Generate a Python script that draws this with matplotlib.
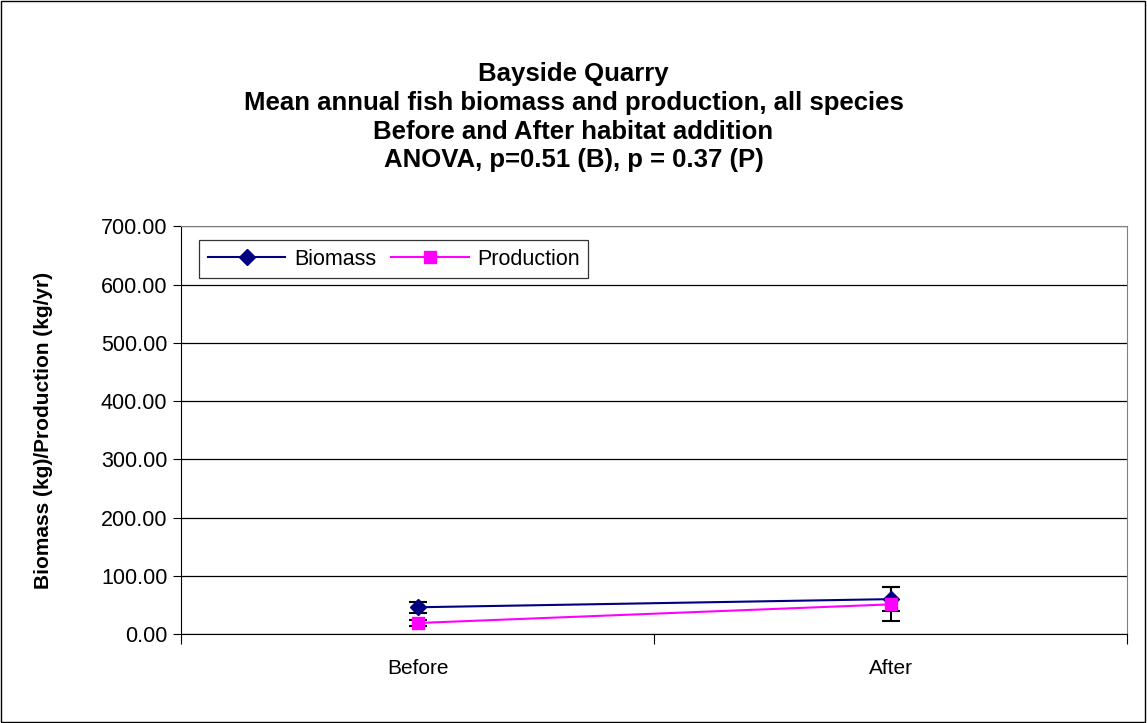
import numpy as np
import matplotlib.pyplot as plt

plt.rcParams['font.family'] = ['Liberation Sans', 'DejaVu Sans']

periods = ["Before", "After"]
biomass = [46, 60]
biomass_err = [9, 21]
production = [19, 51]
production_err = [6, 29]

fig = plt.figure(figsize=(11.47, 7.23), dpi=100)
ax = fig.add_axes([0.158, 0.123, 0.8246, 0.564])

x = np.arange(len(periods))
ax.errorbar(x, biomass, yerr=biomass_err, color="#000080", marker="D", markersize=8,
            lw=1.5, ecolor="black", elinewidth=1.5, capsize=6.5, capthick=1.5, label="Biomass", zorder=3)
ax.errorbar(x, production, yerr=production_err, color="#ff00ff", marker="s", markersize=9,
            lw=1.5, ecolor="black", elinewidth=1.5, capsize=6.5, capthick=1.5, label="Production", zorder=3)

ax.set_xlim(-0.5, 1.5)
ax.set_ylim(0, 700)
ax.set_yticks(np.arange(0, 701, 100))
ax.set_yticklabels(["%.2f" % v for v in np.arange(0, 701, 100)], fontsize=15.5)
ax.set_xticks([-0.5, 0.5, 1.5])
ax.set_xticklabels([])
ax.set_xticks(x, minor=True)
ax.set_xticklabels(periods, minor=True, fontsize=15)
ax.tick_params(axis="x", which="minor", length=0, pad=18)
ax.tick_params(axis="x", which="major", length=7, direction="out")
ax.tick_params(axis="y", length=6, direction="out", pad=4)
ax.grid(axis="y", color="black", lw=0.9)
ax.set_axisbelow(True)
for s in ["top", "right"]:
    ax.spines[s].set_color("#808080")
ax.spines["left"].set_color("black")
ax.spines["bottom"].set_color("black")

ax.set_ylabel("Biomass (kg)/Production (kg/yr)", fontsize=15, fontweight="bold")
ax.yaxis.set_label_coords(-0.136, 0.5)

handles, labels = ax.get_legend_handles_labels()
handles = [h[0] for h in handles]
leg = ax.legend(handles, labels, loc="upper left", bbox_to_anchor=(0.019, 0.966), ncol=2,
                fontsize=15.5, frameon=True, fancybox=False, edgecolor="black", borderaxespad=0,
                handlelength=3.6, columnspacing=0.7, handletextpad=0.4, borderpad=0.4)
leg.get_frame().set_linewidth(0.9)

title = ("Bayside Quarry\nMean annual fish biomass and production, all species\n"
         "Before and After habitat addition\nANOVA, p=0.51 (B), p = 0.37 (P)")
fig.text(0.5, 0.838, title, ha="center", va="center", fontsize=18.5, fontweight="bold", linespacing=1.25)

fig.patches.append(plt.Rectangle((0.001, 0.001), 0.997, 0.997, transform=fig.transFigure,
                                 fill=False, edgecolor="black", lw=1))

fig.savefig("out.png", dpi=100)
